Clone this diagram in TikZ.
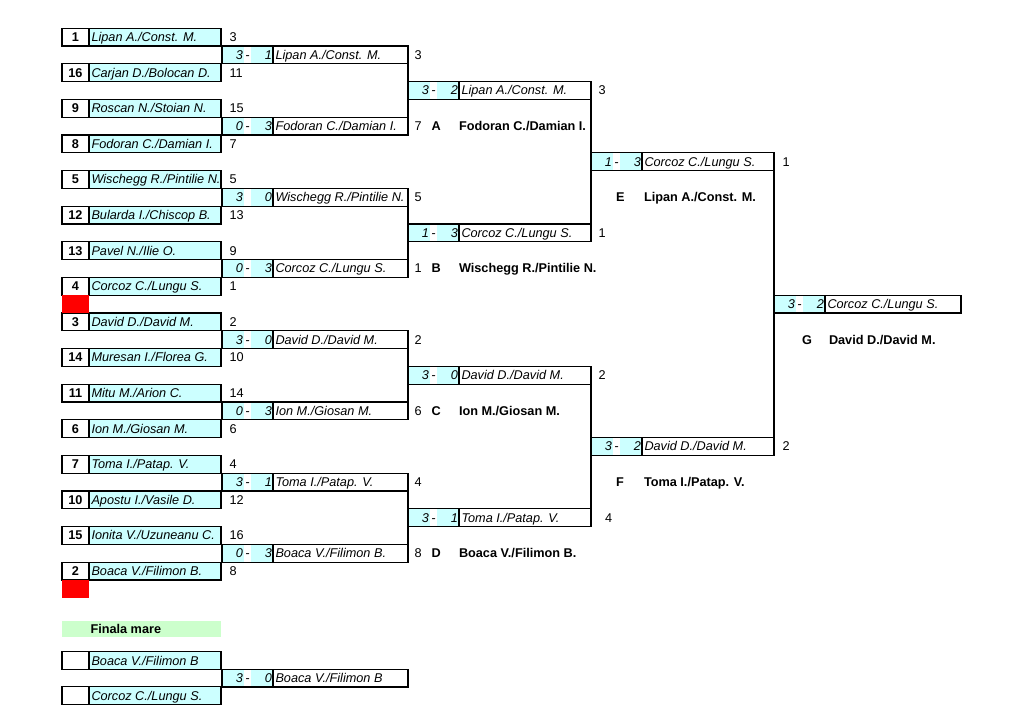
\documentclass[tikz,border=0pt]{standalone}
\usepackage{fontspec}
\setmainfont{Liberation Sans}
\definecolor{cyanc}{HTML}{CCFFFF}
\definecolor{greenc}{HTML}{CCFFCC}
\definecolor{redc}{HTML}{FF0000}
\newcommand\fs{\fontsize{12.7}{14}\selectfont}
\newcommand\ry[1]{37+17.8*(#1)}
\tikzset{
 cellbase/.style={rectangle, inner sep=0pt, outer sep=0pt, minimum height=17.8pt, text height=9pt, text depth=0pt, font=\fs},
 frame/.style={draw=black, line width=1.2pt},
 seedcell/.style={cellbase, frame, minimum width=27pt, font=\fs\bfseries},
 namecell/.style={cellbase, frame, fill=cyanc, font=\fs\itshape, inner xsep=2.5pt},
 wincell/.style={namecell, fill=white},
 scorecell/.style={cellbase, fill=cyanc, font=\fs\itshape, minimum width=22pt, inner xsep=1pt},
 dashcell/.style={cellbase, font=\fs\itshape, minimum width=7pt},
 plain/.style={cellbase, anchor=west},
 boldtxt/.style={plain, font=\fs\bfseries},
 redcell/.style={cellbase, fill=redc, minimum width=27pt},
 greencell/.style={cellbase, fill=greenc, minimum width=159pt, minimum height=16pt, font=\fs\bfseries},
}
% entry: name, y, seed, team, number after
\newcommand\entry[5]{%
 \node[seedcell] (#1s) at (75.5,{#2}) {#3};
 \node[namecell, anchor=west] (#1) at (#1s.east) {\makebox[127pt][l]{#4}};
 \node[plain] (#1r) at (229.5,{#2}) {#5};
}
% match: name, x0, x1, y, s1, sep, s2, winner
\newcommand\match[8]{%
 \pgfmathsetmacro\tw{#3-#2-51-5}%
 \node[scorecell, anchor=west] (#1a) at (#2,{#4}) {\makebox[20pt][r]{#5}};
 \node[dashcell, anchor=west] (#1d) at (#1a.east) {#6};
 \node[scorecell, anchor=west] (#1b) at (#1d.east) {\makebox[20pt][r]{#7}};
 \node[wincell, anchor=west] (#1n) at (#1b.east) {\makebox[\tw pt][l]{#8}};
 \draw[frame] (#1a.north west) rectangle (#1n.south east);
}
\begin{document}
\begin{tikzpicture}[x=1pt,y=-1pt]
\useasboundingbox (0,0) rectangle (1024,723);
% round 0 entries
\entry{e0}{\ry{0}}{1}{Lipan A./Const. M.}{3}
\entry{e2}{\ry{2}}{16}{Carjan D./Bolocan D.}{11}
\entry{e4}{\ry{4}}{9}{Roscan N./Stoian N.}{15}
\entry{e6}{\ry{6}}{8}{Fodoran C./Damian I.}{7}
\entry{e8}{\ry{8}}{5}{Wischegg R./Pintilie N.}{5}
\entry{e10}{\ry{10}}{12}{Bularda I./Chiscop B.}{13}
\entry{e12}{\ry{12}}{13}{Pavel N./Ilie O.}{9}
\entry{e14}{\ry{14}}{4}{Corcoz C./Lungu S.}{1}
\entry{e16}{\ry{16}}{3}{David D./David M.}{2}
\entry{e18}{\ry{18}}{14}{Muresan I./Florea G.}{10}
\entry{e20}{\ry{20}}{11}{Mitu M./Arion C.}{14}
\entry{e22}{\ry{22}}{6}{Ion M./Giosan M.}{6}
\entry{e24}{\ry{24}}{7}{Toma I./Patap. V.}{4}
\entry{e26}{\ry{26}}{10}{Apostu I./Vasile D.}{12}
\entry{e28}{\ry{28}}{15}{Ionita V./Uzuneanu C.}{16}
\entry{e30}{\ry{30}}{2}{Boaca V./Filimon B.}{8}
\node[redcell] (red1) at (75.5,{\ry{15}}) {};
\node[redcell] (red2) at (75.5,{\ry{31}}) {};
% round 1
\match{m1}{222}{408}{\ry{1}}{3}{-}{1}{Lipan A./Const. M.}
\match{m5}{222}{408}{\ry{5}}{0}{-}{3}{Fodoran C./Damian I.}
\match{m9}{222}{408}{\ry{9}}{3}{}{0}{Wischegg R./Pintilie N.}
\match{m13}{222}{408}{\ry{13}}{0}{-}{3}{Corcoz C./Lungu S.}
\match{m17}{222}{408}{\ry{17}}{3}{-}{0}{David D./David M.}
\match{m21}{222}{408}{\ry{21}}{0}{-}{3}{Ion M./Giosan M.}
\match{m25}{222}{408}{\ry{25}}{3}{-}{1}{Toma I./Patap. V.}
\match{m29}{222}{408}{\ry{29}}{0}{-}{3}{Boaca V./Filimon B.}
\node[plain] (m1r) at (414.5,{\ry{1}}) {3};
\node[plain] (m5r) at (414.5,{\ry{5}}) {7};
\node[plain] (m9r) at (414.5,{\ry{9}}) {5};
\node[plain] (m13r) at (414.5,{\ry{13}}) {1};
\node[plain] (m17r) at (414.5,{\ry{17}}) {2};
\node[plain] (m21r) at (414.5,{\ry{21}}) {6};
\node[plain] (m25r) at (414.5,{\ry{25}}) {4};
\node[plain] (m29r) at (414.5,{\ry{29}}) {8};
\draw[frame] (m1n.north east) -- (m5n.south east);
\draw[frame] (m9n.north east) -- (m13n.south east);
\draw[frame] (m17n.north east) -- (m21n.south east);
\draw[frame] (m25n.north east) -- (m29n.south east);
% round 2
\match{n3}{408}{591}{\ry{3}}{3}{-}{2}{Lipan A./Const. M.}
\match{n11}{408}{591}{\ry{11}}{1}{-}{3}{Corcoz C./Lungu S.}
\match{n19}{408}{591}{\ry{19}}{3}{-}{0}{David D./David M.}
\match{n27}{408}{591}{\ry{27}}{3}{-}{1}{Toma I./Patap. V.}
\node[plain] (n3r) at (598.5,{\ry{3}}) {3};
\node[plain] (n11r) at (598.5,{\ry{11}}) {1};
\node[plain] (n19r) at (598.5,{\ry{19}}) {2};
\node[plain] (n27r) at (605,{\ry{27}}) {4};
\draw[frame] (n3n.north east) -- (n11n.south east);
\draw[frame] (n19n.north east) -- (n27n.south east);
% round 3
\match{o7}{591}{774}{\ry{7}}{1}{-}{3}{Corcoz C./Lungu S.}
\match{o23}{591}{774}{\ry{23}}{3}{-}{2}{David D./David M.}
\node[plain] (o7r) at (782.5,{\ry{7}}) {1};
\node[plain] (o23r) at (782.5,{\ry{23}}) {2};
\draw[frame] (o7n.north east) -- (o23n.south east);
% final
\match{p15}{774}{961}{\ry{15}}{3}{-}{2}{Corcoz C./Lungu S.}
% losers
\node[boldtxt] (la) at (431.5,{\ry{5}}) {A};
\node[boldtxt] (lan) at (459,{\ry{5}}) {Fodoran C./Damian I.};
\node[boldtxt] (lb) at (431.5,{\ry{13}}) {B};
\node[boldtxt] (lbn) at (459,{\ry{13}}) {Wischegg R./Pintilie N.};
\node[boldtxt] (lc) at (431.5,{\ry{21}}) {C};
\node[boldtxt] (lcn) at (459,{\ry{21}}) {Ion M./Giosan M.};
\node[boldtxt] (ld) at (431.5,{\ry{29}}) {D};
\node[boldtxt] (ldn) at (459,{\ry{29}}) {Boaca V./Filimon B.};
\node[boldtxt] (le) at (616,{\ry{9}}) {E};
\node[boldtxt] (len) at (644,{\ry{9}}) {Lipan A./Const. M.};
\node[boldtxt] (lf) at (616,{\ry{25}}) {F};
\node[boldtxt] (lfn) at (644,{\ry{25}}) {Toma I./Patap. V.};
\node[boldtxt] (lg) at (802,{\ry{17}}) {G};
\node[boldtxt] (lgn) at (829,{\ry{17}}) {David D./David M.};
% finala mare
\node[greencell, anchor=west] (fm) at (62,629) {\makebox[159pt][l]{\hspace{28.5pt}Finala mare}};
\entry{f1}{660.5}{}{Boaca V./Filimon B}{}
\match{fm2}{222}{408}{678}{3}{-}{0}{Boaca V./Filimon B}
\entry{f3}{695.5}{}{Corcoz C./Lungu S.}{}
\end{tikzpicture}
\end{document}
